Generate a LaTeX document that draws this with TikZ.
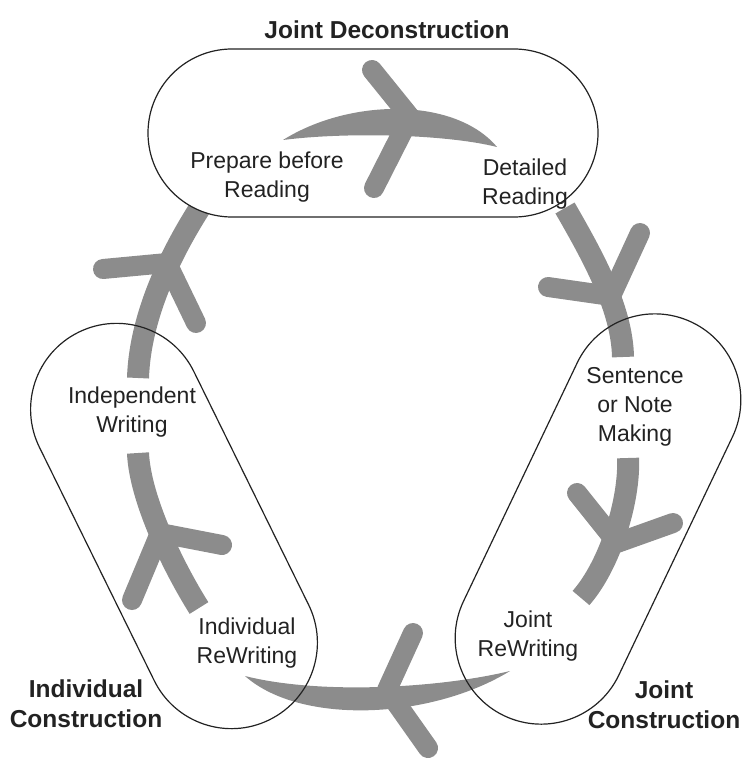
\documentclass[tikz,border=0pt]{standalone}
\usepackage{fontspec}
\setmainfont{Liberation Sans}
\usetikzlibrary{shapes.misc}
\definecolor{bandgray}{RGB}{140,140,140}
\definecolor{inkgray}{RGB}{34,34,34}
\begin{document}
\begin{tikzpicture}
[x=1pt,y=-1pt,
  banddecorate/.style={draw=bandgray,line width=22pt},
  barbdecorate/.style={draw=bandgray,line width=20pt,line cap=round,line join=round},
  capsuledecorate/.style={shape=rounded rectangle,draw=inkgray,line width=1.2pt,inner sep=0pt},
  labeldecorate/.style={align=center,text=inkgray,font=\fontsize{23}{29}\selectfont},
  titledecorate/.style={align=center,text=inkgray,font=\bfseries\fontsize{24.5}{30}\selectfont}]
\useasboundingbox (0,0) rectangle (745,759);
%% band ends
\foreach \name/\x/\y in {lu-a/205/200, lu-b/138/378, ru-a/565/208, ru-b/623/357,
  rl-a/628/458, rl-b/581/598, ll-a/138/453, ll-b/199/608,
  tc-l/283/140, tc-r/497/147, bc-l/245/676, bc-r/510/671} {
  \coordinate (\name) at (\x,\y);
}
%% upper side bands
\draw[banddecorate] (lu-a) .. controls (172,250) and (140,315) .. (lu-b);
\draw[banddecorate] (ru-a) .. controls (595,260) and (622,310) .. (ru-b);
%% top box
\node (jd) at (373,133) [capsuledecorate,fill=white,minimum width=450pt,minimum height=168pt] {};
%% crescents and lower bands
\fill[bandgray] (tc-l) .. controls (350,98) and (455,97) .. (tc-r)
  .. controls (445,134) and (345,132) .. (tc-l) -- cycle;
\fill[bandgray] (bc-l) .. controls (300,725) and (430,720) .. (bc-r)
  .. controls (440,688) and (320,695) .. (bc-l) -- cycle;
\draw[banddecorate] (rl-a) .. controls (630,500) and (610,565) .. (rl-b);
\draw[banddecorate] (ll-a) .. controls (140,500) and (175,570) .. (ll-b);
%% arrow heads
\foreach \tip/\tx/\ty/\ax/\ay/\bx/\by in {t/410/117/372/70/374/188,
  ru/611/296/640/233/548/287, rl/617/543/577/493/673/523,
  b/387/690/413/633/428/748, ll/160/533/222/545/132/600,
  lu/167/263/103/269/196/323} {
  \coordinate (\tip-tip) at (\tx,\ty);
  \draw[barbdecorate] (\ax,\ay) -- (\tip-tip) -- (\bx,\by);
}
%% side boxes
\node (ic) at (174,526) [capsuledecorate,minimum width=432pt,minimum height=172pt,rotate=-63.8] {};
\node (jc) at (598,519) [capsuledecorate,minimum width=436pt,minimum height=172pt,rotate=64.5] {};
%% labels
\foreach \name/\x/\y/\txt in {prep/267/177/{Prepare before\\Reading},
  detr/525/184/{Detailed\\Reading}, sent/635/407/{Sentence\\or Note\\Making},
  jrw/528/636/{Joint\\ReWriting}, irw/247/643/{Individual\\ReWriting},
  indw/132/412/{Independent\\Writing}} {
  \node (\name) at (\x,\y) [labeldecorate] {\txt};
}
\foreach \name/\x/\y/\txt in {jdt/387/30/{Joint Deconstruction},
  ict/86/704/{Individual\\Construction}, jct/664/705/{Joint\\Construction}} {
  \node (\name) at (\x,\y) [titledecorate] {\txt};
}
\end{tikzpicture}
\end{document}
